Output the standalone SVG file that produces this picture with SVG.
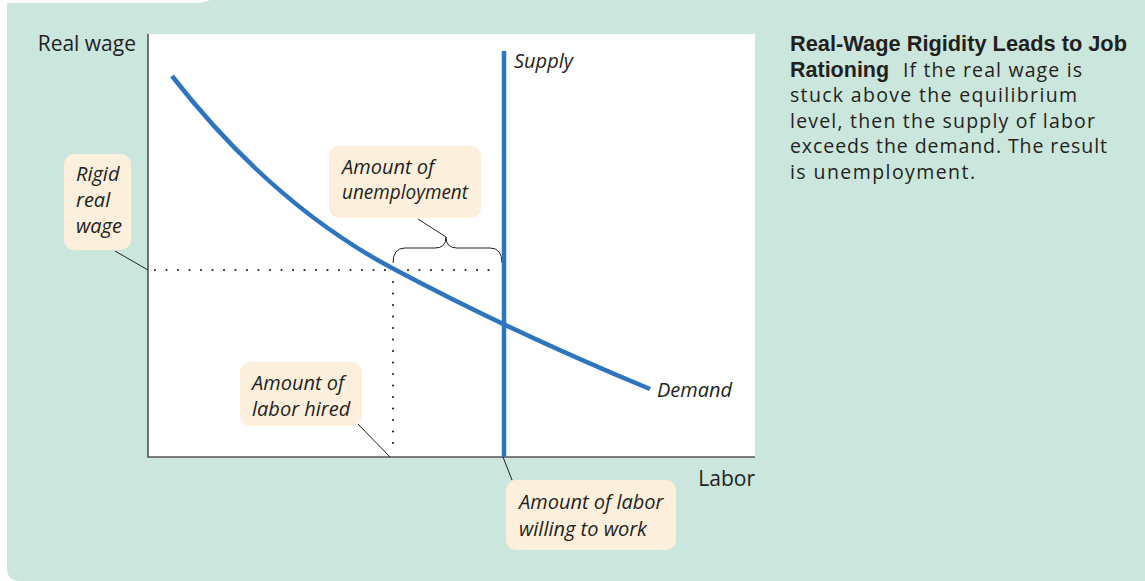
<svg xmlns="http://www.w3.org/2000/svg" width="1145" height="581" viewBox="0 0 1145 581">
<style>
.lbl{font-family:"Open Sans","DejaVu Sans",sans-serif;font-size:21px;fill:#231f20}
.it{font-family:"Open Sans","DejaVu Sans",sans-serif;font-style:italic;font-size:20px;fill:#231f20}
.box{fill:#fcf0dc}
.lead{stroke:#231f20;stroke-width:1;fill:none}
.dot{stroke:#231f20;stroke-width:2.2;stroke-linecap:round;stroke-dasharray:0 11.5;fill:none}
.blue{stroke:#2e75c0;stroke-width:4.5;fill:none}
.axis{stroke:#555;stroke-width:1.6;fill:none}
.bold{font-family:"Liberation Sans",Arial,sans-serif;font-weight:bold;font-size:21.5px;fill:#231f20}
.body{font-family:"Open Sans","DejaVu Sans",sans-serif;font-size:19.5px;fill:#231f20}
</style>
<rect width="1145" height="581" fill="#ffffff"/>
<path d="M7,3 H198 Q204,3 210,0 H1145 V581 H20 Q7,581 7,568 Z" fill="#cbe6dc"/>
<rect x="148" y="34" width="607" height="423" fill="#ffffff"/>
<g id="axes">
<path class="axis" d="M148,34 V457 H755"/>
<text class="lbl" x="136" y="51" text-anchor="end">Real wage</text>
<text class="lbl" x="755" y="486" text-anchor="end">Labor</text>
</g>
<g id="connectors">
<path class="dot" d="M155,270 H500"/>
<path class="dot" d="M393,282 V444"/>
<path class="lead" d="M115,251 L148,270"/>
<path class="lead" d="M418,219 L446,237"/>
<path class="lead" d="M358,424 L390,457"/>
<path class="lead" d="M503,457 L512,480"/>
<path class="lead" d="M393,263 Q393,248 405,248 H435 Q446,248 446,237 Q446,248 457,248 H490 Q502,248 502,263"/>
</g>
<g id="demand">
<path class="blue" d="M172,76 Q272,204 392,268 T650,389"/>
<text class="it" x="657" y="397">Demand</text>
</g>
<g id="supply">
<path class="blue" d="M504,51 V457"/>
<text class="it" x="514" y="68">Supply</text>
</g>
<g id="rigid-real-wage">
<rect class="box" x="64" y="154" width="67" height="96" rx="10"/>
<text class="it" x="76" y="181">Rigid</text>
<text class="it" x="76" y="207">real</text>
<text class="it" x="76" y="233">wage</text>
</g>
<g id="amount-unemployment">
<rect class="box" x="329" y="146" width="152" height="72" rx="10"/>
<text class="it" x="342" y="174">Amount of</text>
<text class="it" x="342" y="199" textLength="126" lengthAdjust="spacingAndGlyphs">unemployment</text>
</g>
<g id="amount-labor-hired">
<rect class="box" x="240" y="362" width="122" height="64" rx="10"/>
<text class="it" x="252" y="390">Amount of</text>
<text class="it" x="252" y="416">labor hired</text>
</g>
<g id="amount-labor-willing">
<rect class="box" x="506" y="480" width="170" height="70" rx="10"/>
<text class="it" x="519" y="509">Amount of labor</text>
<text class="it" x="519" y="536">willing to work</text>
</g>
<g id="caption">
<text class="bold" x="790" y="51" textLength="337" lengthAdjust="spacingAndGlyphs">Real-Wage Rigidity Leads to Job</text>
<text class="bold" x="790" y="77">Rationing</text>
<text class="body" x="903" y="77" textLength="179" lengthAdjust="spacing">If the real wage is</text>
<text class="body" x="790" y="102" textLength="287" lengthAdjust="spacing">stuck above the equilibrium</text>
<text class="body" x="790" y="128" textLength="305" lengthAdjust="spacing">level, then the supply of labor</text>
<text class="body" x="790" y="153" textLength="317" lengthAdjust="spacing">exceeds the demand. The result</text>
<text class="body" x="790" y="179" textLength="185" lengthAdjust="spacing">is unemployment.</text>
</g>
</svg>
